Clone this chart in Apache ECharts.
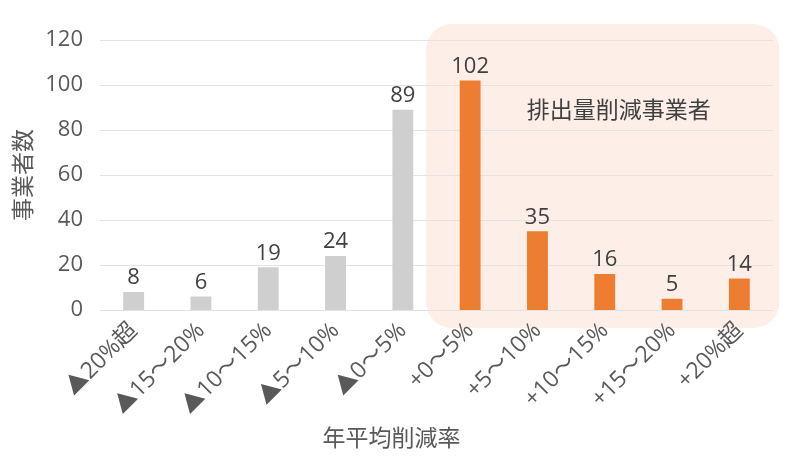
<!DOCTYPE html>
<html>
<head>
<meta charset="utf-8">
<script src="https://cdn.jsdelivr.net/npm/echarts@6/dist/echarts.min.js"></script>
<style>
html, body { margin: 0; padding: 0; background: #fff; }
#main { width: 800px; height: 461px; }
</style>
</head>
<body>
<div id="main"></div>
<script>
var categories = ['▲20%超', '▲15～20%', '▲10～15%', '▲5～10%', '▲0～5%', '+0～5%', '+5～10%', '+10～15%', '+15～20%', '+20%超'];
var counts = [8, 6, 19, 24, 89, 102, 35, 16, 5, 14];
var yTicks = [0, 20, 40, 60, 80, 100, 120];
var firstReducer = 5; // 排出量削減事業者 start here

var font = '"Open Sans", "Noto Sans CJK JP", sans-serif';
var cjk = '"Noto Sans CJK JP", sans-serif';
var chart = echarts.init(document.getElementById('main'));

var option = {
    backgroundColor: '#fff',
    animation: false,
    grid: { left: 100, right: 27, top: 40, bottom: 151 },
    xAxis: {
        type: 'category',
        data: categories,
        name: '年平均削減率',
        nameLocation: 'middle',
        nameGap: 116,
        nameTextStyle: { fontSize: 23, color: '#595959', fontFamily: cjk, padding: [0, 90, 0, 0] },
        axisLine: { show: false },
        axisTick: { show: false },
        axisLabel: { rotate: 45, fontSize: 23, color: '#595959', fontFamily: font, margin: 17, interval: 0 }
    },
    yAxis: {
        type: 'value',
        min: yTicks[0],
        max: yTicks[yTicks.length - 1],
        interval: 20,
        name: '事業者数',
        nameLocation: 'middle',
        nameGap: 66,
        nameTextStyle: { fontSize: 23, color: '#595959', fontFamily: cjk },
        axisLabel: { fontSize: 22, color: '#595959', fontFamily: font, margin: 17 },
        splitLine: { lineStyle: { color: '#e3e3e3', width: 1 } }
    },
    series: [{
        type: 'bar',
        barWidth: '31%',
        data: counts.map(function (v, i) {
            return { value: v, itemStyle: { color: i >= firstReducer ? '#ed7d31' : '#d0cfcf' } };
        }),
        label: { show: true, position: 'top', distance: 3, fontSize: 22, color: '#404040', fontFamily: font }
    }]
};
chart.setOption(option);

// shaded rounded panel behind the reducer group
var p0 = chart.convertToPixel({ xAxisIndex: 0 }, firstReducer);
var p1 = chart.convertToPixel({ xAxisIndex: 0 }, categories.length - 1);
var yTop = chart.convertToPixel({ yAxisIndex: 0 }, 120);
var yBot = chart.convertToPixel({ yAxisIndex: 0 }, 0);
var x0 = p0 - 44, x1 = p1 + 40;
chart.setOption({
    graphic: [
        {
            type: 'rect',
            z: -1,
            silent: true,
            shape: { x: x0, y: yTop - 16, width: x1 - x0, height: yBot - yTop + 34, r: 26 },
            style: { fill: '#fdefe7' }
        },
        {
            type: 'text',
            z: 10,
            x: (x0 + x1) / 2 + 16,
            y: chart.convertToPixel({ yAxisIndex: 0 }, 89),
            style: { text: '排出量削減事業者', fill: '#404040', font: '23px ' + cjk, align: 'center', verticalAlign: 'middle' }
        }
    ]
});
</script>
</body>
</html>
